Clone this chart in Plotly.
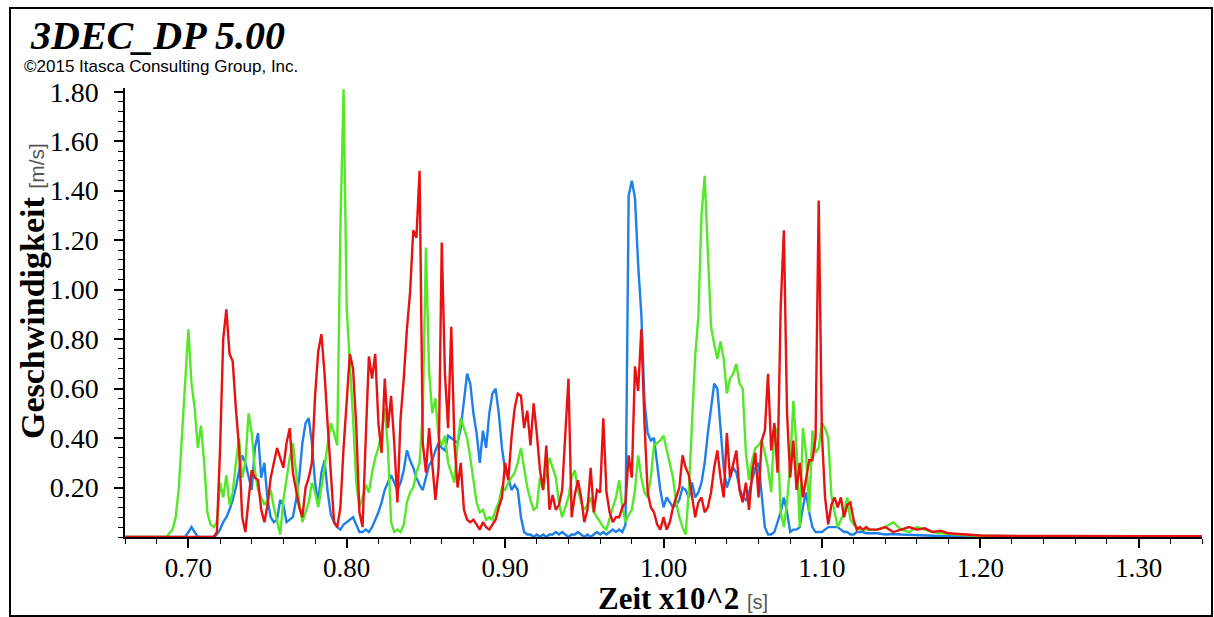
import numpy as np
import plotly.graph_objects as go

# ---------------- data ----------------
T_START = 0.690
T_STEP = 0.002
LEAD_T = [0.66, 0.686]
TAIL_T = [1.135, 1.14, 1.145, 1.15, 1.155, 1.16, 1.165, 1.17, 1.175, 1.18,
          1.185, 1.19, 1.195, 1.20, 1.21, 1.22, 1.25, 1.30, 1.34]

green_active = [
    0.03, 0.08, 0.20, 0.40, 0.62, 0.84, 0.62, 0.52, 0.36, 0.45,
    0.30, 0.10, 0.05, 0.04, 0.06, 0.22, 0.16, 0.25, 0.13, 0.18,
    0.30, 0.40, 0.24, 0.30, 0.50, 0.42, 0.27, 0.19, 0.16, 0.13,
    0.15, 0.19, 0.12, 0.06, 0.01, 0.15, 0.23, 0.32, 0.38, 0.27,
    0.14, 0.06, 0.10, 0.14, 0.22, 0.18, 0.12, 0.20, 0.28, 0.38,
    0.46, 0.42, 0.37, 1.25, 1.81, 0.92, 0.72, 0.48, 0.22, 0.12,
    0.16, 0.21, 0.18, 0.26, 0.32, 0.36, 0.42, 0.52, 0.36, 0.06,
    0.02, 0.03, 0.02, 0.05, 0.14, 0.18, 0.20, 0.26, 0.30, 0.50,
    1.17, 0.67, 0.50, 0.56, 0.40, 0.37, 0.41, 0.30, 0.26, 0.22,
    0.38, 0.48, 0.44, 0.40, 0.32, 0.22, 0.14, 0.10, 0.11, 0.07,
    0.08, 0.07, 0.11, 0.14, 0.20, 0.19, 0.22, 0.24, 0.26, 0.30,
    0.36, 0.28, 0.20, 0.15, 0.11, 0.12, 0.24, 0.19, 0.26, 0.32,
    0.28, 0.24, 0.14, 0.08, 0.12, 0.16, 0.24, 0.27, 0.19, 0.14,
    0.11, 0.13, 0.16, 0.10, 0.08, 0.06, 0.04, 0.03, 0.08, 0.12,
    0.16, 0.23, 0.12, 0.06, 0.09, 0.11, 0.19, 0.33, 0.24, 0.18,
    0.16, 0.24, 0.37, 0.38, 0.39, 0.41, 0.35, 0.29, 0.24, 0.14,
    0.08, 0.04, 0.01, 0.19, 0.46, 0.73, 0.89, 1.30, 1.46, 1.15,
    0.85, 0.78, 0.72, 0.79, 0.72, 0.58, 0.64, 0.66, 0.70, 0.62,
    0.60, 0.34, 0.23, 0.31, 0.36, 0.37, 0.39, 0.34, 0.28, 0.18,
    0.45, 0.42, 0.10, 0.04, 0.14, 0.30, 0.55, 0.36, 0.04, 0.44,
    0.34, 0.10, 0.43, 0.34, 0.36, 0.46, 0.44, 0.40, 0.17, 0.10,
    0.04, 0.07, 0.10, 0.16, 0.07, 0.05, 0.04, 0.03, 0.03, 0.03,
    0.03,
]
blue_active = [
    0.00, 0.00, 0.00, 0.00, 0.00, 0.02, 0.04, 0.02, 0.00, 0.00,
    0.00, 0.00, 0.00, 0.00, 0.01, 0.03, 0.06, 0.08, 0.11, 0.15,
    0.20, 0.27, 0.33, 0.30, 0.24, 0.19, 0.36, 0.42, 0.24, 0.30,
    0.15, 0.08, 0.06, 0.07, 0.15, 0.13, 0.06, 0.07, 0.08, 0.15,
    0.24, 0.38, 0.46, 0.48, 0.38, 0.22, 0.14, 0.26, 0.31, 0.18,
    0.09, 0.06, 0.04, 0.03, 0.05, 0.06, 0.07, 0.08, 0.05, 0.02,
    0.02, 0.03, 0.02, 0.04, 0.07, 0.10, 0.14, 0.19, 0.22, 0.25,
    0.22, 0.19, 0.22, 0.27, 0.35, 0.31, 0.28, 0.24, 0.21, 0.19,
    0.24, 0.29, 0.31, 0.35, 0.38, 0.36, 0.35, 0.41, 0.40, 0.39,
    0.38, 0.44, 0.55, 0.66, 0.62, 0.50, 0.42, 0.30, 0.43, 0.36,
    0.50, 0.58, 0.60, 0.50, 0.36, 0.27, 0.24, 0.19, 0.21, 0.19,
    0.08, 0.02, 0.01, 0.01, 0.00, 0.01, 0.00, 0.01, 0.00, 0.01,
    0.01, 0.02, 0.01, 0.02, 0.01, 0.00, 0.01, 0.01, 0.02, 0.01,
    0.00, 0.01, 0.00, 0.01, 0.02, 0.01, 0.02, 0.01, 0.02, 0.03,
    0.02, 0.03, 0.02, 0.05, 1.38, 1.44, 1.37, 1.10, 0.90, 0.55,
    0.42, 0.39, 0.40, 0.29, 0.19, 0.12, 0.16, 0.14, 0.12, 0.13,
    0.15, 0.20, 0.19, 0.16, 0.22, 0.16, 0.18, 0.22, 0.30, 0.42,
    0.52, 0.62, 0.60, 0.45, 0.28, 0.20, 0.24, 0.28, 0.26, 0.20,
    0.16, 0.15, 0.18, 0.23, 0.28, 0.30, 0.18, 0.04, 0.01, 0.01,
    0.02, 0.06, 0.10, 0.16, 0.10, 0.02, 0.03, 0.03, 0.04, 0.12,
    0.18, 0.10, 0.04, 0.02, 0.02, 0.02, 0.03, 0.04, 0.04, 0.04,
    0.04, 0.03, 0.02, 0.02, 0.01, 0.01, 0.02, 0.02, 0.02, 0.015,
    0.015,
]
red_active = [
    0.00, 0.00, 0.00, 0.00, 0.00, 0.00, 0.00, 0.00, 0.00, 0.00,
    0.00, 0.00, 0.00, 0.00, 0.02, 0.35, 0.80, 0.92, 0.74, 0.71,
    0.52, 0.36, 0.08, 0.02, 0.15, 0.27, 0.24, 0.23, 0.11, 0.06,
    0.13, 0.24, 0.30, 0.36, 0.32, 0.28, 0.38, 0.44, 0.26, 0.19,
    0.12, 0.08, 0.20, 0.24, 0.30, 0.57, 0.75, 0.82, 0.66, 0.45,
    0.23, 0.06, 0.04, 0.12, 0.36, 0.57, 0.74, 0.68, 0.45, 0.10,
    0.04, 0.40, 0.73, 0.64, 0.74, 0.46, 0.34, 0.64, 0.44, 0.57,
    0.38, 0.14, 0.48, 0.64, 0.84, 0.99, 1.24, 1.21, 1.48, 0.38,
    0.26, 0.44, 0.31, 0.15, 0.28, 1.19, 0.66, 0.44, 0.85, 0.38,
    0.20, 0.30, 0.11, 0.07, 0.06, 0.07, 0.05, 0.03, 0.06, 0.04,
    0.03, 0.05, 0.07, 0.12, 0.16, 0.30, 0.23, 0.40, 0.52, 0.58,
    0.57, 0.44, 0.51, 0.37, 0.54, 0.42, 0.27, 0.19, 0.37, 0.11,
    0.17, 0.11, 0.13, 0.19, 0.40, 0.64, 0.08, 0.17, 0.23, 0.16,
    0.06, 0.11, 0.28, 0.10, 0.19, 0.18, 0.48, 0.18, 0.10, 0.06,
    0.08, 0.08, 0.12, 0.14, 0.33, 0.24, 0.69, 0.59, 0.84, 0.46,
    0.18, 0.12, 0.10, 0.05, 0.03, 0.08, 0.03, 0.06, 0.12, 0.16,
    0.20, 0.33, 0.28, 0.25, 0.16, 0.08, 0.14, 0.16, 0.10, 0.12,
    0.18, 0.28, 0.35, 0.24, 0.16, 0.42, 0.24, 0.30, 0.35, 0.19,
    0.14, 0.22, 0.11, 0.26, 0.34, 0.16, 0.39, 0.43, 0.66, 0.35,
    0.46, 0.26, 0.93, 1.24, 0.50, 0.24, 0.39, 0.19, 0.30, 0.16,
    0.24, 0.31, 0.31, 0.40, 1.36, 0.42, 0.16, 0.05, 0.13, 0.16,
    0.12, 0.16, 0.08, 0.13, 0.14, 0.07, 0.03, 0.04, 0.03, 0.04,
    0.03,
]
green_tail = [0.03, 0.04, 0.06, 0.03, 0.02, 0.04, 0.03, 0.02, 0.015, 0.012,
              0.01, 0.008, 0.006, 0.005, 0.004, 0.003, 0.002, 0.002, 0.002]
blue_tail = [0.015, 0.01, 0.012, 0.01, 0.008, 0.006, 0.006, 0.005, 0.004, 0.004,
             0.003, 0.003, 0.003, 0.002, 0.002, 0.002, 0.002, 0.002, 0.002]
red_tail = [0.03, 0.04, 0.02, 0.03, 0.04, 0.03, 0.035, 0.02, 0.025, 0.015,
            0.012, 0.01, 0.008, 0.006, 0.005, 0.004, 0.004, 0.003, 0.003]
lead_vals = [0.0, 0.0]

X_TICKS = [0.70, 0.80, 0.90, 1.00, 1.10, 1.20, 1.30]
Y_TICKS = [0.20, 0.40, 0.60, 0.80, 1.00, 1.20, 1.40, 1.60, 1.80]

# ---------------- build ----------------
t_active = list(np.round(T_START + T_STEP * np.arange(len(green_active)), 4))
t_all = LEAD_T + t_active + TAIL_T

series = [
    ("blue", lead_vals + blue_active + blue_tail, "rgb(30,128,230)"),
    ("green", lead_vals + green_active + green_tail, "rgb(84,232,40)"),
    ("red", lead_vals + red_active + red_tail, "rgb(232,18,18)"),
]

fig = go.Figure()
for name, vals, col in series:
    fig.add_trace(go.Scatter(x=t_all, y=vals, mode="lines", name=name,
                             line=dict(color=col, width=2.4), showlegend=False,
                             hoverinfo="skip"))

W, H = 1214, 617
L, R, T, B = 125, 12, 88, 80
pw, ph = W - L - R, H - T - B


def px(xp):
    return (xp - L) / pw


def py(yp):
    return (H - B - yp) / ph


SERIF = "Liberation Serif, Times New Roman, serif"
SANS = "Liberation Sans, Arial, sans-serif"

fig.update_layout(
    width=W, height=H,
    margin=dict(l=L, r=R, t=T, b=B),
    paper_bgcolor="white", plot_bgcolor="white",
    xaxis=dict(range=[0.66, 1.34], tickvals=X_TICKS,
               ticktext=[f"{v:.2f}" for v in X_TICKS],
               ticks="outside", ticklen=9, tickwidth=1.5, tickcolor="black",
               showline=True, linecolor="black", linewidth=1.5,
               showgrid=False, zeroline=False,
               minor=dict(ticks="outside", ticklen=5, tickwidth=1.2,
                          tickcolor="black", tickmode="linear",
                          tick0=0.66, dtick=0.02),
               tickfont=dict(family=SERIF, size=27, color="black"),
               ticklabelstandoff=-3),
    yaxis=dict(range=[0, 1.815], tickvals=Y_TICKS,
               ticktext=[f"{v:.2f}" for v in Y_TICKS],
               ticks="outside", ticklen=9, tickwidth=1.5, tickcolor="black",
               showline=True, linecolor="black", linewidth=1.5,
               showgrid=False, zeroline=False,
               minor=dict(ticks="outside", ticklen=5, tickwidth=1.2,
                          tickcolor="black", tickmode="linear",
                          tick0=0, dtick=0.04),
               tickfont=dict(family=SERIF, size=28, color="black"),
               ticklabelstandoff=10),
)

ann = [
    dict(x=px(28), y=py(35), text="<b><i>3DEC_DP 5.00</i></b>",
         xanchor="left", yanchor="middle",
         font=dict(family=SERIF, size=40, color="black")),
    dict(x=px(22), y=py(66), text="\u00a92015 Itasca Consulting Group, Inc.",
         xanchor="left", yanchor="middle",
         font=dict(family=SANS, size=17, color="black")),
    dict(x=px(32), y=py(291), textangle=-90,
         text="<b>Geschwindigkeit</b> <span style='font-family:Liberation Sans, Arial;"
              "font-size:21px;color:#555555'>[m/s]</span>",
         xanchor="center", yanchor="middle",
         font=dict(family=SERIF, size=34, color="black")),
    dict(x=px(683), y=py(616.5), borderpad=0,
         text="<b>Zeit x10^2</b> <span style='font-family:Liberation Sans, Arial;"
              "font-size:20px;color:#555555'>[s]</span>",
         xanchor="center", yanchor="bottom",
         font=dict(family=SERIF, size=31, color="black")),
]
for a in ann:
    a.update(xref="paper", yref="paper", showarrow=False)
fig.update_layout(annotations=ann)

fig.add_shape(type="rect", xref="paper", yref="paper",
              x0=px(10), x1=px(1212), y0=py(616), y1=py(8),
              line=dict(color="black", width=2), fillcolor="rgba(0,0,0,0)",
              layer="above")

fig.write_html("out.html", config={"displayModeBar": False},
               post_script="document.body.style.margin='0';")
